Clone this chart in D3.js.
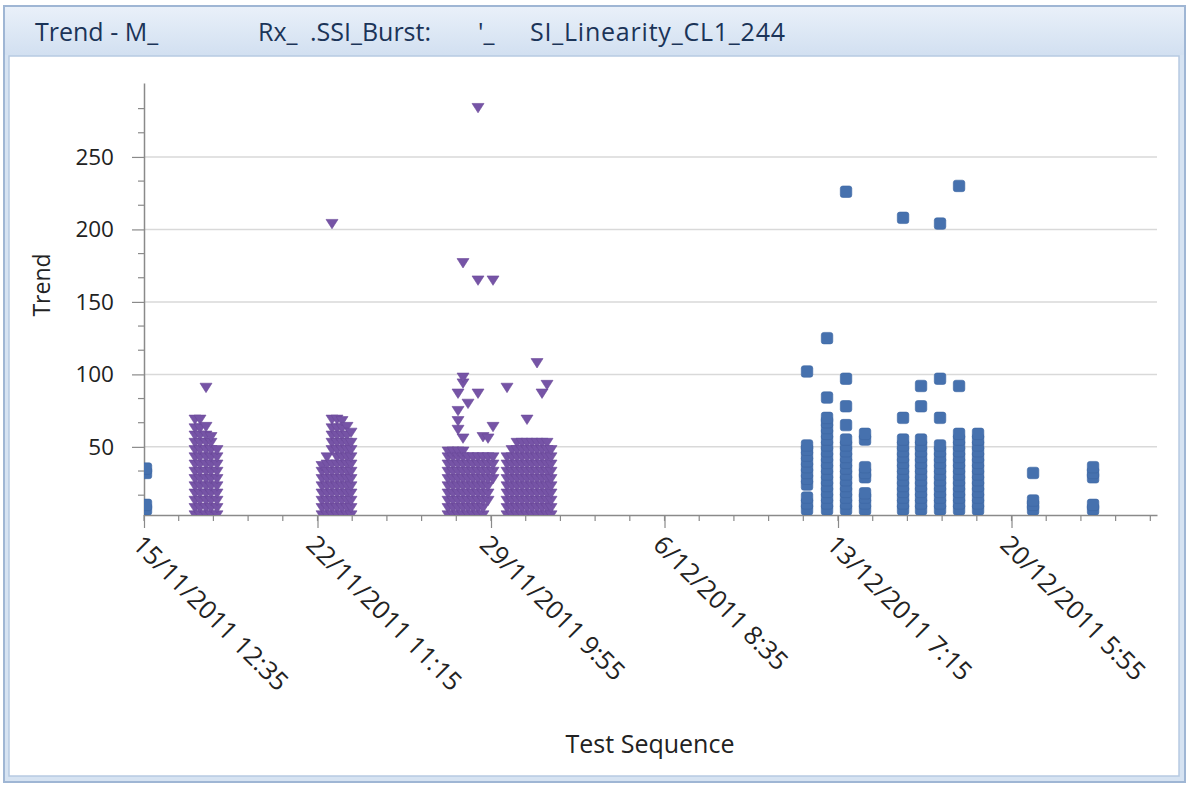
<!DOCTYPE html>
<html>
<head>
<meta charset="utf-8">
<title>Trend</title>
<script src="https://d3js.org/d3.v7.min.js"></script>
<style>
  body { margin: 0; background: #fff; }
  text { font-family: "Open Sans", "Noto Sans", sans-serif; }
</style>
</head>
<body>
<div id="chart"></div>
<script>
// x axis labels (every 10000 minutes)
var xTickLabels = ["15/11/2011 12:35", "22/11/2011 11:15", "29/11/2011 9:55",
                   "6/12/2011 8:35", "13/12/2011 7:15", "20/12/2011 5:55"];
var yTicks = [50, 100, 150, 200, 250];

// purple series (down triangles): one time per column, values per column
var purpleTimes = [
  "17/11/2011 13:35", "17/11/2011 18:23", "18/11/2011 0:09", "18/11/2011 4:57", "18/11/2011 10:43",
  "22/11/2011 15:35", "22/11/2011 20:23", "23/11/2011 1:11", "23/11/2011 6:00", "23/11/2011 10:48",
  "23/11/2011 15:36", "23/11/2011 19:26",
  "27/11/2011 16:38", "27/11/2011 21:26", "28/11/2011 2:14", "28/11/2011 7:02", "28/11/2011 11:50",
  "28/11/2011 16:39", "28/11/2011 21:27", "29/11/2011 2:15", "29/11/2011 7:03", "29/11/2011 11:51",
  "30/11/2011 1:18", "30/11/2011 6:07", "30/11/2011 10:55", "30/11/2011 15:43", "30/11/2011 20:31",
  "1/12/2011 1:19", "1/12/2011 6:08", "1/12/2011 10:56", "1/12/2011 15:44", "1/12/2011 19:34"
];
var purpleValues = [
  [3, 8, 13, 18, 23, 28, 33, 38, 43, 48, 53, 58, 63, 69],
  [3, 8, 13, 18, 23, 28, 33, 38, 43, 48, 53, 58, 63, 69],
  [3, 8, 13, 18, 23, 28, 33, 38, 43, 48, 53, 58, 64, 91],
  [3, 8, 13, 18, 23, 28, 33, 38, 43, 48, 53, 57],
  [3, 8, 13, 18, 23, 28, 33, 38, 43, 48],
  [3, 8, 13, 18, 23, 28, 33, 37],
  [3, 8, 13, 18, 23, 28, 33, 38, 43],
  [3, 8, 13, 18, 23, 28, 33, 38, 48, 53, 58, 63, 69, 204],
  [3, 8, 13, 18, 23, 28, 33, 38, 43, 48, 53, 58, 63, 69],
  [3, 8, 13, 18, 23, 28, 33, 38, 43, 48, 53, 58, 63, 68],
  [3, 8, 13, 18, 23, 28, 33, 38, 43, 48, 53, 58, 64],
  [3, 8, 13, 18, 23, 28, 33, 38, 43, 48, 53, 60],
  [3, 8, 13, 18, 23, 28, 33, 38, 43, 47],
  [3, 8, 13, 18, 23, 28, 33, 38, 43, 47],
  [3, 8, 13, 18, 23, 28, 33, 38, 43, 47, 62, 68, 75, 87],
  [3, 8, 13, 18, 23, 28, 33, 38, 43, 47, 56, 94, 98, 177],
  [3, 8, 13, 18, 23, 28, 33, 38, 43, 80],
  [3, 8, 13, 18, 23, 28, 33, 38, 43],
  [3, 8, 13, 18, 23, 28, 33, 38, 43, 87, 165, 284],
  [3, 8, 13, 18, 23, 28, 33, 38, 43, 57],
  [13, 18, 23, 28, 33, 38, 43, 56],
  [28, 33, 38, 43, 64, 165],
  [3, 8, 13, 18, 23, 28, 33, 38, 43, 91],
  [3, 8, 13, 18, 23, 28, 33, 38, 43, 48],
  [3, 8, 13, 18, 23, 28, 33, 38, 43, 48, 53],
  [3, 8, 13, 18, 23, 28, 33, 38, 43, 48, 53],
  [3, 8, 13, 18, 23, 28, 33, 38, 43, 48, 53, 69],
  [3, 8, 13, 18, 23, 28, 33, 38, 43, 48, 53],
  [3, 8, 13, 18, 23, 28, 33, 38, 43, 48, 53, 108],
  [3, 8, 13, 18, 23, 28, 33, 38, 43, 48, 53, 87],
  [3, 8, 13, 18, 23, 28, 33, 38, 43, 48, 53, 93],
  [3, 8, 13, 18, 23, 28, 33, 38, 43, 48]
];

// blue series (squares)
var blueTimes = [
  "15/11/2011 14:30", "12/12/2011 1:30", "12/12/2011 20:43", "13/12/2011 14:58", "14/12/2011 9:13",
  "15/12/2011 21:44", "16/12/2011 15:01", "17/12/2011 9:16", "18/12/2011 3:32", "18/12/2011 21:47",
  "21/12/2011 2:37", "23/12/2011 12:15"
];
var blueValues = [
  [7, 10, 32, 35],
  [7, 11, 15, 24, 28, 32, 36, 40, 44, 48, 51, 102],
  [7, 11, 15, 19, 23, 27, 31, 35, 39, 43, 47, 51, 55, 59, 63, 67, 70, 84, 125],
  [7, 11, 15, 19, 23, 27, 31, 35, 39, 43, 47, 51, 55, 65, 78, 97, 226],
  [7, 11, 15, 18, 29, 32, 36, 55, 59],
  [7, 11, 15, 19, 23, 27, 31, 35, 39, 43, 47, 51, 55, 70, 208],
  [7, 11, 15, 19, 23, 27, 31, 35, 39, 43, 47, 51, 55, 78, 92],
  [7, 11, 15, 19, 23, 27, 31, 35, 39, 43, 47, 51, 70, 97, 204],
  [7, 11, 15, 19, 23, 27, 31, 35, 39, 43, 47, 51, 55, 59, 92, 230],
  [7, 11, 15, 19, 23, 27, 31, 35, 39, 43, 47, 51, 55, 59],
  [7, 10, 13, 32],
  [7, 10, 29, 32, 36]
];

var w = 1189, h = 786;
var pLeft = 144, pRight = 1157, pTop = 83, pBottom = 515;
var parseT = d3.timeParse("%d/%m/%Y %H:%M");

var svg = d3.select("#chart").append("svg")
  .attr("width", w).attr("height", h);

// window frame + title bar
var defs = svg.append("defs");
var grad = defs.append("linearGradient").attr("id", "tb")
  .attr("x1", 0).attr("y1", 0).attr("x2", 0).attr("y2", 1);
grad.append("stop").attr("offset", "0%").attr("stop-color", "#e9f0f9");
grad.append("stop").attr("offset", "100%").attr("stop-color", "#d2e0f1");
defs.append("clipPath").attr("id", "plotclip").append("rect")
  .attr("x", pLeft).attr("y", pTop).attr("width", pRight - pLeft).attr("height", pBottom - pTop);

svg.append("rect").attr("x", 4).attr("y", 6).attr("width", 1181).attr("height", 776)
  .attr("fill", "#d6e3f2").attr("stroke", "#9fb6d4").attr("stroke-width", 2);
svg.append("rect").attr("x", 5).attr("y", 7).attr("width", 1179).attr("height", 48)
  .attr("fill", "url(#tb)");
svg.append("rect").attr("x", 9).attr("y", 56).attr("width", 1170).attr("height", 720)
  .attr("fill", "#fff").attr("stroke", "#b7cae2").attr("stroke-width", 1.5);

var title = svg.append("g").attr("fill", "#1b3458").attr("font-size", 25);
title.append("text").attr("x", 35).attr("y", 41).text("Trend - M_");
title.append("text").attr("x", 258).attr("y", 41).text("Rx_");
title.append("text").attr("x", 310).attr("y", 41).text(".SSI_Burst:");
title.append("text").attr("x", 478).attr("y", 41).text("'_");
title.append("text").attr("x", 530).attr("y", 41).attr("textLength", 255).text("SI_Linearity_CL1_244");

// scales
var x = d3.scaleTime()
  .domain([parseT("15/11/2011 12:35"), parseT("26/12/2011 1:40")])
  .range([pLeft, pRight]);
var y = d3.scaleLinear().domain([3, 301]).range([pBottom, pTop]);

// gridlines
svg.append("g").selectAll("line").data(yTicks).enter().append("line")
  .attr("x1", pLeft).attr("x2", pRight)
  .attr("y1", function(d) { return y(d); }).attr("y2", function(d) { return y(d); })
  .attr("stroke", "#d9d9d9").attr("stroke-width", 1.5);

// y minor ticks
var yMinor = d3.range(50 / 3, 301, 50 / 3).filter(function(d) { return Math.abs(d / 50 - Math.round(d / 50)) > 0.01; });
svg.append("g").selectAll("line").data(yMinor).enter().append("line")
  .attr("x1", pLeft - 6).attr("x2", pLeft)
  .attr("y1", function(d) { return y(d); }).attr("y2", function(d) { return y(d); })
  .attr("stroke", "#8a8a8a").attr("stroke-width", 1.2);

// x minor ticks every 2000 minutes
var majors = xTickLabels.map(parseT);
var xMinor = d3.range(0, 30).map(function(i) { return d3.timeMinute.offset(majors[0], i * 2000); })
  .filter(function(d) { return d <= x.domain()[1]; });
svg.append("g").selectAll("line").data(xMinor).enter().append("line")
  .attr("x1", function(d) { return x(d); }).attr("x2", function(d) { return x(d); })
  .attr("y1", pBottom).attr("y2", pBottom + 6)
  .attr("stroke", "#8a8a8a").attr("stroke-width", 1.2);

// y axis
var yAxis = svg.append("g").attr("transform", "translate(" + pLeft + ",0)")
  .call(d3.axisLeft(y).tickValues(yTicks).tickSize(12).tickPadding(18).tickSizeOuter(0));
yAxis.select(".domain").attr("stroke", "#8a8a8a").attr("stroke-width", 1.5);
yAxis.selectAll(".tick line").attr("stroke", "#8a8a8a").attr("stroke-width", 1.2);
yAxis.selectAll(".tick text").attr("font-size", 22.5).attr("fill", "#222")
  .attr("font-family", "'Open Sans', sans-serif");

// x axis
var xAxis = svg.append("g").attr("transform", "translate(0," + pBottom + ")")
  .call(d3.axisBottom(x).tickValues(majors).tickSize(13).tickSizeOuter(0)
    .tickFormat(d3.timeFormat("%-d/%m/%Y %-H:%M")));
xAxis.select(".domain").attr("stroke", "#8a8a8a").attr("stroke-width", 1.5);
xAxis.selectAll(".tick line").attr("stroke", "#8a8a8a").attr("stroke-width", 1.2);
xAxis.selectAll(".tick text").attr("font-size", 25.5).attr("fill", "#222")
  .attr("font-family", "'Open Sans', sans-serif")
  .attr("text-anchor", "start")
  .attr("transform", "translate(-7,25) rotate(45)")
  .attr("x", 0).attr("y", 0).attr("dy", "0.35em");

// axis titles
svg.append("text").attr("x", 650).attr("y", 753).attr("text-anchor", "middle")
  .attr("font-size", 25).attr("fill", "#222").text("Test Sequence");
svg.append("text").attr("transform", "translate(50,285) rotate(-90)").attr("text-anchor", "middle")
  .attr("font-size", 23).attr("fill", "#222").text("Trend");

// points
var purplePts = [], bluePts = [];
purpleTimes.forEach(function(t, i) {
  purpleValues[i].forEach(function(v) { purplePts.push({ t: parseT(t), v: v }); });
});
blueTimes.forEach(function(t, i) {
  blueValues[i].forEach(function(v) { bluePts.push({ t: parseT(t), v: v }); });
});

var plot = svg.append("g").attr("clip-path", "url(#plotclip)");

plot.selectAll("path.tri").data(purplePts).enter().append("path")
  .attr("class", "tri")
  .attr("d", "M-6,-4.2L6,-4.2L0,5.2Z")
  .attr("transform", function(d) { return "translate(" + x(d.t) + "," + y(d.v) + ")"; })
  .attr("fill", "#7654a6")
  .attr("stroke", "#6a4899").attr("stroke-width", 0.6).attr("stroke-linejoin", "round");

plot.selectAll("rect.sq").data(bluePts).enter().append("rect")
  .attr("class", "sq")
  .attr("x", function(d) { return x(d.t) - 5.75; })
  .attr("y", function(d) { return y(d.v) - 5.75; })
  .attr("width", 11.5).attr("height", 11.5).attr("rx", 2.5)
  .attr("fill", "#4671ae")
  .attr("stroke", "#3d66a2").attr("stroke-width", 0.6);
</script>
</body>
</html>
